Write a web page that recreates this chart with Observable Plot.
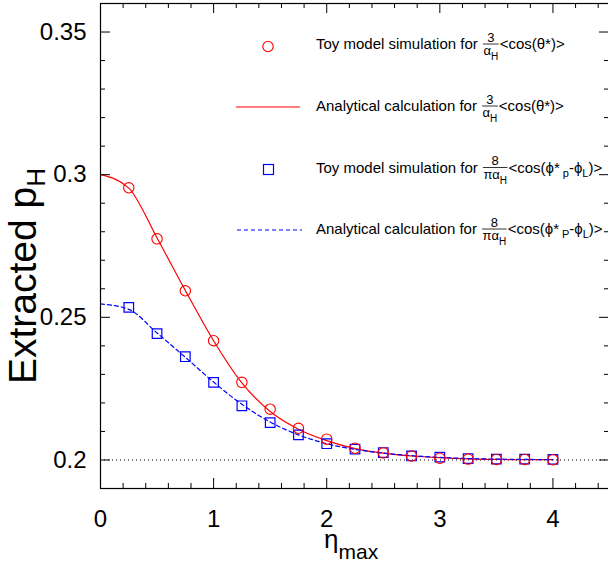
<!DOCTYPE html>
<html><head><meta charset="utf-8">
<script src="https://cdn.jsdelivr.net/npm/d3@7"></script>
<script src="https://cdn.jsdelivr.net/npm/@observablehq/plot@0.6"></script>
<style>html,body{margin:0;padding:0;background:#fff;overflow:hidden}</style>
</head><body><div id="chart"></div>
<script>
// ---- data ----
const etaMax   = [0.25,0.5,0.75,1,1.25,1.5,1.75,2,2.25,2.5,2.75,3,3.25,3.5,3.75,4];
const toyTheta = [0.2954,0.2775,0.2593,0.2418,0.2272,0.2178,0.2111,0.2073,0.2041,0.2025,0.2014,0.2006,0.2003,0.2002,0.2002,0.2001];
const toyPhi   = [0.2535,0.2443,0.2362,0.2272,0.2190,0.2131,0.2088,0.2057,0.2038,0.2026,0.2014,0.2010,0.2005,0.2003,0.2003,0.2002];
const curveEta = [0,0.25,0.5,0.75,1,1.25,1.5,1.75,2,2.25,2.5,2.75,3,3.25,3.5,3.75,4];
const anaTheta = [0.3000,0.2953,0.2778,0.2594,0.2418,0.2270,0.2170,0.2108,0.2068,0.2040,0.2024,0.2014,0.2008,0.2004,0.2002,0.2001,0.2001];
const anaPhi   = [0.2547,0.2528,0.2445,0.2360,0.2273,0.2195,0.2133,0.2088,0.2057,0.2037,0.2024,0.2015,0.2009,0.2005,0.2003,0.2002,0.2001];
const asymptote = [0.2];
const xMajorTicks = [0,1,2,3,4];
const xTickLabels = ["0","1","2","3","4"];
const xMinorTicks = [0.2,0.4,0.6,0.8,1.2,1.4,1.6,1.8,2.2,2.4,2.6,2.8,3.2,3.4,3.6,3.8,4.2,4.4];
const yMajorTicks = [0.2,0.25,0.3,0.35];
const yTickLabels = ["0.2","0.25","0.3","0.35"];
const yMinorTicks = [0.21,0.22,0.23,0.24,0.26,0.27,0.28,0.29,0.31,0.32,0.33,0.34];

// ---- layout ----
const W = 608, H = 566, mL = 100, mR = -1, mT = 3, mB = 78;
const innerW = W - mL - mR, innerH = H - mT - mB;
const MAJ = 10, MIN = 5;
const FONT = "'Liberation Sans', Arial, Helvetica, sans-serif";
const RED = "#ff0000", BLUE = "#0000ff";

const pts = (xs, ys) => xs.map((x, i) => ({x, y: ys[i]}));

const svgNode = Plot.plot({
  width: W, height: H,
  marginLeft: mL, marginRight: mR, marginTop: mT, marginBottom: mB,
  style: {fontFamily: FONT, fontSize: "24px", background: "#fff", color: "#000"},
  x: {domain: [0, 4.5]},
  y: {domain: [0.19, 0.36]},
  marks: [
    Plot.ruleY(asymptote, {stroke: "#000", strokeWidth: 1, strokeDasharray: "1,3"}),
    Plot.line(pts(curveEta, anaTheta), {x: "x", y: "y", stroke: RED, strokeWidth: 1.2, curve: "monotone-x"}),
    Plot.line(pts(curveEta, anaPhi), {x: "x", y: "y", stroke: BLUE, strokeWidth: 1.2, strokeDasharray: "4,3", curve: "monotone-x"}),
    Plot.dot(pts(etaMax, toyPhi), {x: "x", y: "y", symbol: "square", r: 5.4, stroke: BLUE, strokeWidth: 1.2, fill: "none"}),
    Plot.dot(pts(etaMax, toyTheta), {x: "x", y: "y", r: 5.2, stroke: RED, strokeWidth: 1.1, fill: "none"}),
    // inward ticks on all four sides
    Plot.tickX(xMajorTicks, {x: d => d, insetTop: innerH - MAJ, stroke: "#000"}),
    Plot.tickX(xMinorTicks, {x: d => d, insetTop: innerH - MIN, stroke: "#000"}),
    Plot.tickX(xMajorTicks, {x: d => d, insetBottom: innerH - MAJ, stroke: "#000"}),
    Plot.tickX(xMinorTicks, {x: d => d, insetBottom: innerH - MIN, stroke: "#000"}),
    Plot.tickY(yMajorTicks, {y: d => d, insetRight: innerW - MAJ, stroke: "#000"}),
    Plot.tickY(yMinorTicks, {y: d => d, insetRight: innerW - MIN, stroke: "#000"}),
    Plot.tickY(yMajorTicks, {y: d => d, insetLeft: innerW - MAJ, stroke: "#000"}),
    Plot.tickY(yMinorTicks, {y: d => d, insetLeft: innerW - MIN, stroke: "#000"}),
    Plot.frame({stroke: "#000", strokeWidth: 1.2}),
    Plot.axisX(xMajorTicks, {tickSize: 0, tickPadding: 21, fontSize: 24, label: null,
      tickFormat: d => xTickLabels[xMajorTicks.indexOf(d)]}),
    Plot.axisY(yMajorTicks, {tickSize: 0, tickPadding: 14, fontSize: 24, label: null,
      tickFormat: d => yTickLabels[yMajorTicks.indexOf(d)]})
  ]
});
document.getElementById("chart").appendChild(svgNode);

const svg = d3.select(svgNode);

// ---- axis titles with subscripts ----
const yl = svg.append("text")
  .attr("transform", "translate(36,168) rotate(-90)")
  .attr("text-anchor", "end")
  .attr("font-family", FONT).attr("font-size", 39).attr("fill", "#000");
yl.append("tspan").text("Extracted p");
yl.append("tspan").attr("font-size", 26).attr("dy", 9).text("H");

const xl = svg.append("text")
  .attr("x", 324).attr("y", 548).attr("text-anchor", "start")
  .attr("font-family", FONT).attr("font-size", 26).attr("fill", "#000");
xl.append("tspan").text("η");
xl.append("tspan").attr("font-size", 21).attr("dy", 11).text("max");

// ---- legend ----
const lg = svg.append("g").attr("font-family", FONT).attr("fill", "#000").attr("text-anchor", "start");
const TX = 316;

function writeParts(textSel, parts, baseSize, subSize) {
  let off = 0;
  for (const p of parts) {
    const [s, kind, dx] = p;
    const target = kind === "sub" ? 4 : 0;
    const ts = textSel.append("tspan").text(s)
      .attr("font-size", kind === "sub" ? subSize : baseSize)
      .attr("dy", target - off);
    if (dx) ts.attr("dx", dx);
    off = target;
  }
}

function legendRow(y, prefix, num, den, suffix) {
  const t = lg.append("text").attr("x", TX).attr("y", y).attr("font-size", 15).text(prefix);
  const x0 = TX + t.node().getComputedTextLength() + 1;
  const n = lg.append("text").attr("font-size", 13).text(num);
  const d = lg.append("text").attr("font-size", 13);
  d.append("tspan").text(den);
  d.append("tspan").attr("font-size", 10).attr("dy", 5).text("H");
  const nw = n.node().getComputedTextLength();
  const dw = d.node().getComputedTextLength();
  const fw = Math.max(nw, dw) + 1;
  n.attr("x", x0 + (fw - nw) / 2).attr("y", y - 7.5);
  d.attr("x", x0 + (fw - dw) / 2).attr("y", y + 6);
  lg.append("line").attr("x1", x0).attr("x2", x0 + fw).attr("y1", y - 5).attr("y2", y - 5)
    .attr("stroke", "#000").attr("stroke-width", 0.8);
  const s = lg.append("text").attr("x", x0 + fw + 1).attr("y", y);
  writeParts(s, suffix, 15, 11);
}

const cosTheta = [["<cos(θ*)>"]];
legendRow(49, "Toy model simulation for ", "3", "α", cosTheta);
legendRow(111, "Analytical calculation for ", "3", "α", cosTheta);
legendRow(172.5, "Toy model simulation for ", "8", "πα", [["<cos(ϕ*"], ["p", "sub", 3], ["-ϕ"], ["L", "sub"], [")>"]]);
legendRow(234, "Analytical calculation for ", "8", "πα", [["<cos(ϕ*"], ["P", "sub", 3], ["-ϕ"], ["L", "sub"], [")>"]]);

// legend symbols
lg.append("circle").attr("cx", 268).attr("cy", 46.5).attr("r", 5.2)
  .attr("fill", "none").attr("stroke", RED).attr("stroke-width", 1.1);
lg.append("line").attr("x1", 236).attr("x2", 300).attr("y1", 107).attr("y2", 107)
  .attr("stroke", RED).attr("stroke-width", 1.2);
lg.append("rect").attr("x", 263.5).attr("y", 164.5).attr("width", 10).attr("height", 10)
  .attr("fill", "none").attr("stroke", BLUE).attr("stroke-width", 1.2);
lg.append("line").attr("x1", 237).attr("x2", 302).attr("y1", 230).attr("y2", 230)
  .attr("stroke", BLUE).attr("stroke-width", 1.2).attr("stroke-dasharray", "4,3");
</script>
</body></html>
